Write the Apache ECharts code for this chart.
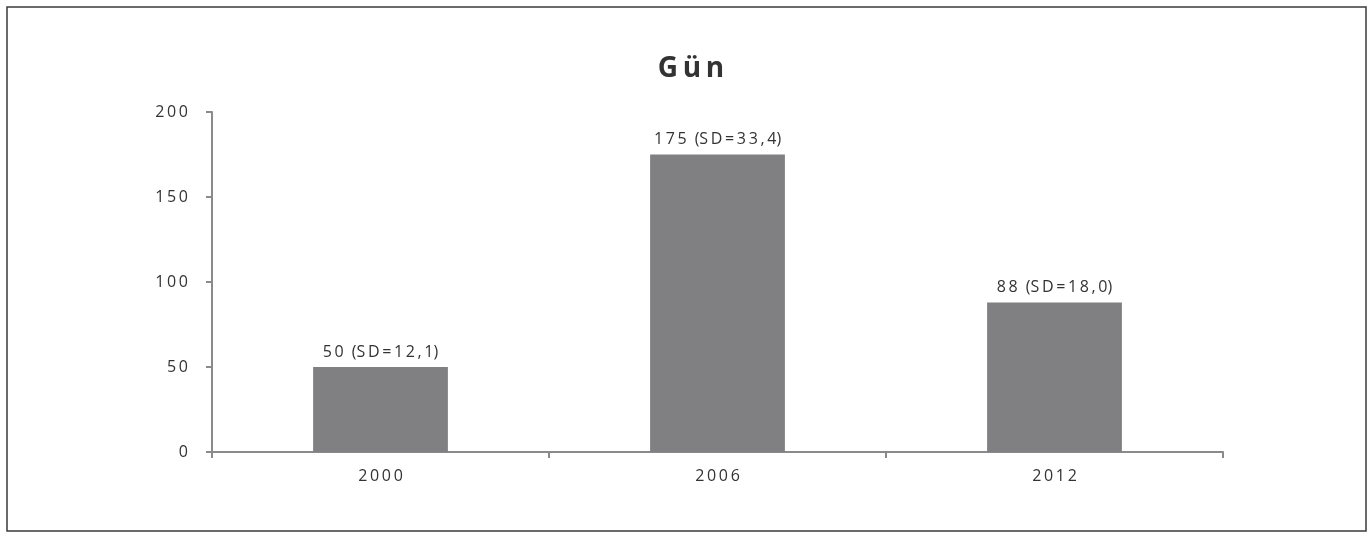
<!DOCTYPE html>
<html>
<head>
<meta charset="utf-8">
<script src="https://cdn.jsdelivr.net/npm/echarts@6/dist/echarts.min.js"></script>
<style>
html,body{margin:0;padding:0;background:#fff;}
#c{width:1370px;height:533px;}
</style>
</head>
<body>
<div id="c"></div>
<script>
var titleText = 'Gün';
var categories = ['2000', '2006', '2012'];
var values = [50, 175, 88];
var sdValues = ['12,1', '33,4', '18,0'];
var yTicks = [0, 50, 100, 150, 200];

var SP = '\u2009';
function spaced(s) { return String(s).split('').join(SP); }

var chart = echarts.init(document.getElementById('c'));
var FONT = '"Open Sans", "Noto Sans", sans-serif';
chart.setOption({
  animation: false,
  backgroundColor: '#fff',
  graphic: [{
    type: 'rect',
    shape: { x: 7, y: 7, width: 1359, height: 524 },
    style: { fill: 'none', stroke: '#3a3a3a', lineWidth: 1.5 },
    silent: true
  }],
  title: {
    text: spaced(titleText),
    left: 686, top: 50,
    textAlign: 'center',
    textStyle: { fontFamily: FONT, fontSize: 28, fontWeight: 'bold', color: '#333' }
  },
  grid: { left: 212, right: 147, top: 112, bottom: 81, containLabel: false },
  xAxis: {
    type: 'category',
    data: categories,
    axisLine: { lineStyle: { color: '#8a8a8a', width: 2 } },
    axisTick: { show: true, length: 6, lineStyle: { color: '#8a8a8a', width: 2 } },
    axisLabel: {
      margin: 16, color: '#333', fontFamily: FONT, fontSize: 16,
      formatter: function (v) { return spaced(v); }
    }
  },
  yAxis: {
    type: 'value',
    min: yTicks[0], max: yTicks[yTicks.length - 1], interval: 50,
    splitLine: { show: false },
    axisLine: { show: true, lineStyle: { color: '#8a8a8a', width: 2 } },
    axisTick: { show: true, length: 6, lineStyle: { color: '#8a8a8a', width: 2 } },
    axisLabel: {
      margin: 24, color: '#333', fontFamily: FONT, fontSize: 16,
      formatter: function (v) { return spaced(v); }
    }
  },
  series: [{
    type: 'bar',
    data: values,
    barWidth: '40%',
    itemStyle: { color: '#808083' },
    label: {
      show: true, position: 'top', distance: 7,
      color: '#333', fontFamily: FONT, fontSize: 16,
      formatter: function (p) {
        return spaced(p.value) + '\u2002(' + spaced('SD=' + sdValues[p.dataIndex]) + ')';
      }
    }
  }]
});
</script>
</body>
</html>
